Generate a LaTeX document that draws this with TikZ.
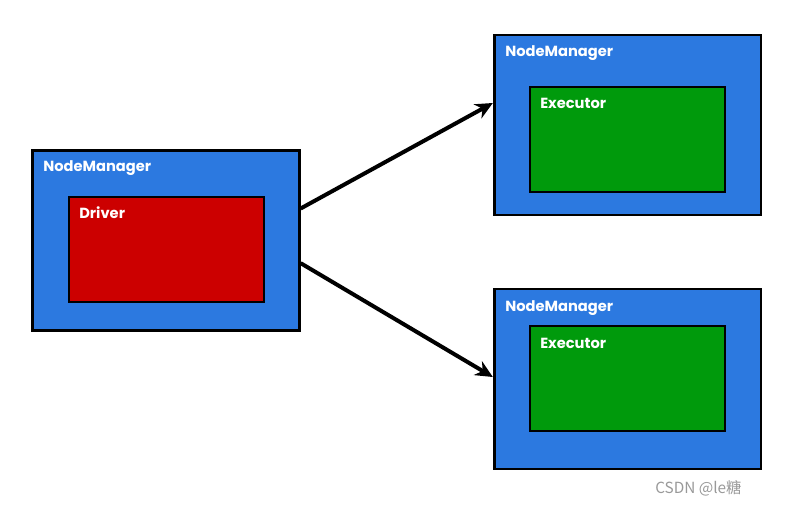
\documentclass[tikz,border=0pt]{standalone}
\usepackage{fontspec}
\setmainfont{Poppins}
\newfontfamily\cjk{Noto Sans CJK SC}
\usetikzlibrary{arrows.meta}
\definecolor{nmblue}{HTML}{2C79E0}
\definecolor{drvred}{HTML}{CC0000}
\definecolor{exgreen}{HTML}{009A0C}
\tikzset{
  box/.style={draw=black, line width=2pt, inner sep=0pt},
  outerbox/.style={box, fill=nmblue, minimum width=200pt, minimum height=135pt},
  innerbox/.style={box, minimum width=146.25pt, minimum height=78.75pt},
  lbl/.style={anchor=base west, text=white, font=\bfseries\fontsize{11pt}{13pt}\selectfont, inner sep=0pt},
  conn/.style={line width=3pt, -{Stealth[length=13pt,width=12pt]}}
}
\begin{document}
\begin{tikzpicture}[x=0.75pt,y=-0.75pt]
\useasboundingbox (0,0) rectangle (800,506);
\node[outerbox] (L) at (166,240.5) {};
\node[innerbox, fill=drvred] (D) at (166.5,249.5) {};
\node[outerbox] (TR) at (627.5,125) {};
\node[innerbox, fill=exgreen] (E1) at (627.5,139.5) {};
\node[outerbox] (BR) at (627.5,379) {};
\node[innerbox, fill=exgreen] (E2) at (627.5,378.5) {};
\node[lbl] (l1) at (43,172) {NodeManager};
\node[lbl] (l2) at (79,219) {Driver};
\node[lbl] (l3) at (505,57) {NodeManager};
\node[lbl] (l4) at (540,109) {Executor};
\node[lbl] (l5) at (505,311) {NodeManager};
\node[lbl] (l6) at (540,348) {Executor};
\draw[conn] ([yshift=24pt]L.east) -- ([yshift=16.5pt]TR.west);
\draw[conn] ([yshift=-17pt]L.east) -- ([yshift=1.5pt]BR.west);
\node[anchor=base west, text=black!40, font=\cjk\fontsize{11.5pt}{13pt}\selectfont, inner sep=0pt] (wm) at (655,493) {CSDN @le糖};
\end{tikzpicture}
\end{document}
